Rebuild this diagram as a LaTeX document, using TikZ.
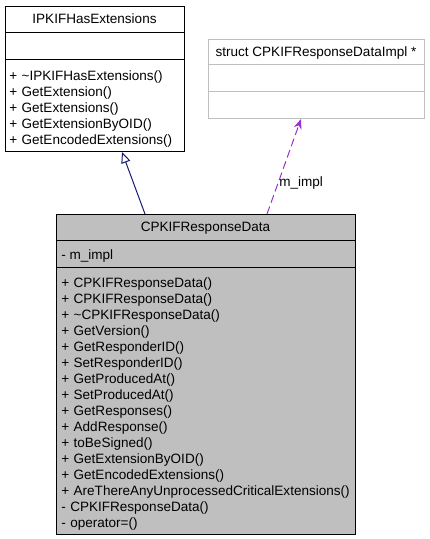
\documentclass[tikz,border=0pt]{standalone}
\usepackage{fontspec}
\setmainfont{Liberation Sans}
\usepackage{xcolor}
\usepackage{tikz}
\usetikzlibrary{positioning,arrows.meta,calc}
\definecolor{boxgray}{RGB}{191,191,191}
\definecolor{inhblue}{RGB}{25,25,112}
\definecolor{usepurple}{RGB}{154,50,205}
\tikzset{
  classbox/.style={draw, line width=0.75pt, inner sep=0pt, anchor=north west},
  classname/.style={anchor=base, inner sep=0pt},
  member/.style={anchor=base west, inner sep=0pt, align=left},
}

\begin{document}
\begin{tikzpicture}[x=0.75pt, y=-0.75pt, font=\fontsize{10.15}{12}\selectfont]
    \useasboundingbox (0,0) rectangle (429,539);

    % Base class - IPKIFHasExtensions
    \node[classbox, minimum width=179*0.75pt, minimum height=145*0.75pt] (base) at (5,6) {};
    \draw[line width=0.75pt] (5,32) -- (184,32) (5,59) -- (184,59);
    \node[classname] (baseName) at (94.5,23) {IPKIFHasExtensions};
    \node[member, text width=200*0.75pt] (baseOps) at (9,80)
        {+ \textasciitilde IPKIFHasExtensions()\\+ GetExtension()\\+ GetExtensions()\\+ GetExtensionByOID()\\+ GetEncodedExtensions()};

    % Pointer target - struct CPKIFResponseDataImpl *
    \node[classbox, draw=boxgray, fill=white, minimum width=216*0.75pt, minimum height=79*0.75pt] (impl) at (208,39) {};
    \draw[boxgray, line width=0.75pt] (208,64) -- (424,64) (208,91) -- (424,91);
    \node[classname] (implName) at (316,56) {struct CPKIFResponseDataImpl *};

    % Main class - CPKIFResponseData
    \node[classbox, fill=boxgray, minimum width=299*0.75pt, minimum height=320*0.75pt] (data) at (56,214) {};
    \draw[line width=0.75pt] (56,240) -- (355,240) (56,267) -- (355,267);
    \node[classname] (dataName) at (205.5,231) {CPKIFResponseData};
    \node[member] (dataAttr) at (61,259) {- m\_impl};
    \node[member, text width=330*0.75pt] (dataOps) at (61,287)
        {+ CPKIFResponseData()\\+ CPKIFResponseData()\\+ \textasciitilde CPKIFResponseData()\\+ GetVersion()\\+ GetResponderID()\\+ SetResponderID()\\+ GetProducedAt()\\+ SetProducedAt()\\+ GetResponses()\\+ AddResponse()\\+ toBeSigned()\\+ GetExtensionByOID()\\+ GetEncodedExtensions()\\+ AreThereAnyUnprocessedCriticalExtensions()\\- CPKIFResponseData()\\- operator=()};

    % Inheritance
    \coordinate (inhFrom) at ($(data.north west)+(89,0)$);
    \coordinate (inhTo) at ($(base.south west)+(117,0)$);
    \draw[-{Triangle[open, length=8.25pt, width=7pt]}, inhblue, line width=0.75pt] (inhFrom) -- (inhTo);

    % Usage - m_impl
    \coordinate (useFrom) at ($(data.north west)+(211,0)$);
    \coordinate (useTo) at ($(impl.south west)+(93,0)$);
    \draw[-{Stealth[length=7.5pt, width=6pt]}, usepurple, dash pattern=on 6pt off 3pt, line width=0.75pt] (useFrom) -- (useTo);
    \node[member] (useLabel) at (279,186) {m\_impl};
\end{tikzpicture}
\end{document}
